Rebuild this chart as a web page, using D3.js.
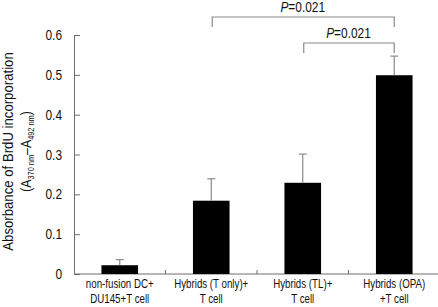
<!DOCTYPE html>
<html>
<head>
<meta charset="utf-8">
<script src="https://cdn.jsdelivr.net/npm/d3@7/dist/d3.min.js"></script>
<style>
body{margin:0;background:#fff}
svg{font-family:"Liberation Sans",Arial,sans-serif}
.axis path,.axis line{stroke:#6e6e6e}
.axis text{fill:#111;font-size:14.5px}
</style>
</head>
<body>
<svg id="svg1"></svg>
<script>
// data
var groups = ["nonfusion","tonly","tl","opa"]
var labelLine1 = ["non-fusion DC+","Hybrids (T only)+","Hybrids (TL)+","Hybrids (OPA)"]
var labelLine2 = ["DU145+T cell","T cell","T cell","+T cell"]
var means = [0.022,0.184,0.229,0.499]
var errors = [0.014,0.055,0.072,0.048]
var yTicks = [0,0.1,0.2,0.3,0.4,0.5,0.6]
var brackets = [
    {from:"tonly",to:"opa",text:"0.021",level:0},
    {from:"tl",to:"opa",text:"0.021",level:1}
]

// squeeze text to imitate the condensed face of the figure
var condense = function(sel,factor)
{
    sel.each(function()
    {
        var len = this.getComputedTextLength()
        d3.select(this)
            .attr("textLength",len*factor)
            .attr("lengthAdjust","spacingAndGlyphs")
    })
}

var screen = {width:438,height:307}
var margins = {left:74,right:-2,top:35,bottom:33}
var graph = {
    width:screen.width-margins.left-margins.right,
    height:screen.height-margins.top-margins.bottom
}

var svg = d3.select("#svg1")
    .attr("width",screen.width)
    .attr("height",screen.height)

var xScale = d3.scaleBand()
    .domain(groups)
    .range([0,graph.width])

var barScale = d3.scaleBand()
    .domain(groups)
    .range([0,graph.width])
    .paddingInner(0.6)
    .paddingOuter(0.3)

var yScale = d3.scaleLinear()
    .domain([0,0.6])
    .range([graph.height,0])

var target = svg.append("g")
    .attr("transform","translate("+margins.left+","+margins.top+")")

// y axis
var yAxis = d3.axisLeft(yScale)
    .tickValues(yTicks)
    .tickFormat(function(d){return d==0?"0":d3.format(".1f")(d)})
    .tickSizeInner(-6)
    .tickSizeOuter(0)
    .tickPadding(12)
target.append("g")
    .attr("class","axis")
    .call(yAxis)
    .call(function(g){condense(g.selectAll("text"),0.82)})

// x axis: line with inward ticks at category borders
var xAxisG = target.append("g")
    .attr("class","axis")
    .attr("transform","translate(0,"+graph.height+")")
xAxisG.append("line")
    .attr("x1",0)
    .attr("x2",graph.width)
xAxisG.selectAll(".sep")
    .data(groups.slice(1))
    .enter()
    .append("line")
    .attr("x1",function(d){return xScale(d)})
    .attr("x2",function(d){return xScale(d)})
    .attr("y1",0)
    .attr("y2",-4)

// bars
target.selectAll(".bar")
    .data(groups)
    .enter()
    .append("rect")
    .attr("class","bar")
    .attr("x",function(d){return barScale(d)})
    .attr("width",barScale.bandwidth())
    .attr("y",function(d,i){return yScale(means[i])})
    .attr("height",function(d,i){return graph.height-yScale(means[i])})
    .attr("fill","#000")

// error bars (upper only)
var eb = target.selectAll(".err")
    .data(groups)
    .enter()
    .append("g")
    .attr("class","err")
    .attr("stroke","#8a8a8a")
    .attr("stroke-width",1.2)
eb.append("line")
    .attr("x1",function(d){return barScale(d)+barScale.bandwidth()/2})
    .attr("x2",function(d){return barScale(d)+barScale.bandwidth()/2})
    .attr("y1",function(d,i){return yScale(means[i])})
    .attr("y2",function(d,i){return yScale(means[i]+errors[i])})
eb.append("line")
    .attr("x1",function(d){return barScale(d)+barScale.bandwidth()/2-4})
    .attr("x2",function(d){return barScale(d)+barScale.bandwidth()/2+4})
    .attr("y1",function(d,i){return yScale(means[i]+errors[i])})
    .attr("y2",function(d,i){return yScale(means[i]+errors[i])})

// x labels
var xl = target.selectAll(".xlab")
    .data(groups)
    .enter()
    .append("text")
    .attr("class","xlab")
    .attr("text-anchor","middle")
    .attr("font-size","13.5px")
    .attr("fill","#111")
var xl1 = xl.append("tspan")
    .attr("x",function(d){return xScale(d)+xScale.bandwidth()/2})
    .attr("y",graph.height+14)
    .text(function(d,i){return labelLine1[i]})
var xl2 = xl.append("tspan")
    .attr("x",function(d){return xScale(d)+xScale.bandwidth()/2})
    .attr("y",graph.height+29)
    .text(function(d,i){return labelLine2[i]})
condense(xl1,0.72)
condense(xl2,0.72)

// significance brackets
var bg = target.selectAll(".bracket")
    .data(brackets)
    .enter()
    .append("g")
    .attr("class","bracket")
bg.append("path")
    .attr("fill","none")
    .attr("stroke","#8a8a8a")
    .attr("stroke-width",1.2)
    .attr("d",function(b){
        var x1 = xScale(b.from)+xScale.bandwidth()/2+1
        var x2 = xScale(b.to)+xScale.bandwidth()/2
        var y = -18+b.level*26
        return "M"+x1+","+(y+10)+"V"+y+"H"+x2+"V"+(y+10)
    })
var bt = bg.append("text")
    .attr("text-anchor","middle")
    .attr("font-size","14px")
    .attr("fill","#111")
    .attr("x",function(b){
        return (xScale(b.from)+xScale(b.to)+xScale.bandwidth())/2
    })
    .attr("y",function(b){return -23+b.level*26})
bt.append("tspan").attr("font-style","italic").text("P")
bt.append("tspan").text(function(b){return "="+b.text})
condense(bt,0.85)

// y label
var yl = svg.append("text")
    .attr("text-anchor","middle")
    .attr("fill","#111")
    .attr("font-size","15.5px")
    .attr("transform","translate(13,"+(margins.top+graph.height/2-3)+") rotate(-90)")
    .text("Absorbance of BrdU incorporation")
condense(yl,0.85)
var yl2 = svg.append("text")
    .attr("text-anchor","middle")
    .attr("fill","#111")
    .attr("font-size","15px")
    .attr("transform","translate(31,"+(margins.top+graph.height/2-3)+") rotate(-90)")
yl2.append("tspan").text("(A")
yl2.append("tspan").attr("font-size","9px").attr("dy",3).text("370 nm")
yl2.append("tspan").attr("dy",-3).text("\u2013A")
yl2.append("tspan").attr("font-size","9px").attr("dy",3).text("492 nm")
yl2.append("tspan").attr("dy",-3).text(")")
condense(yl2,0.82)
</script>
</body>
</html>
